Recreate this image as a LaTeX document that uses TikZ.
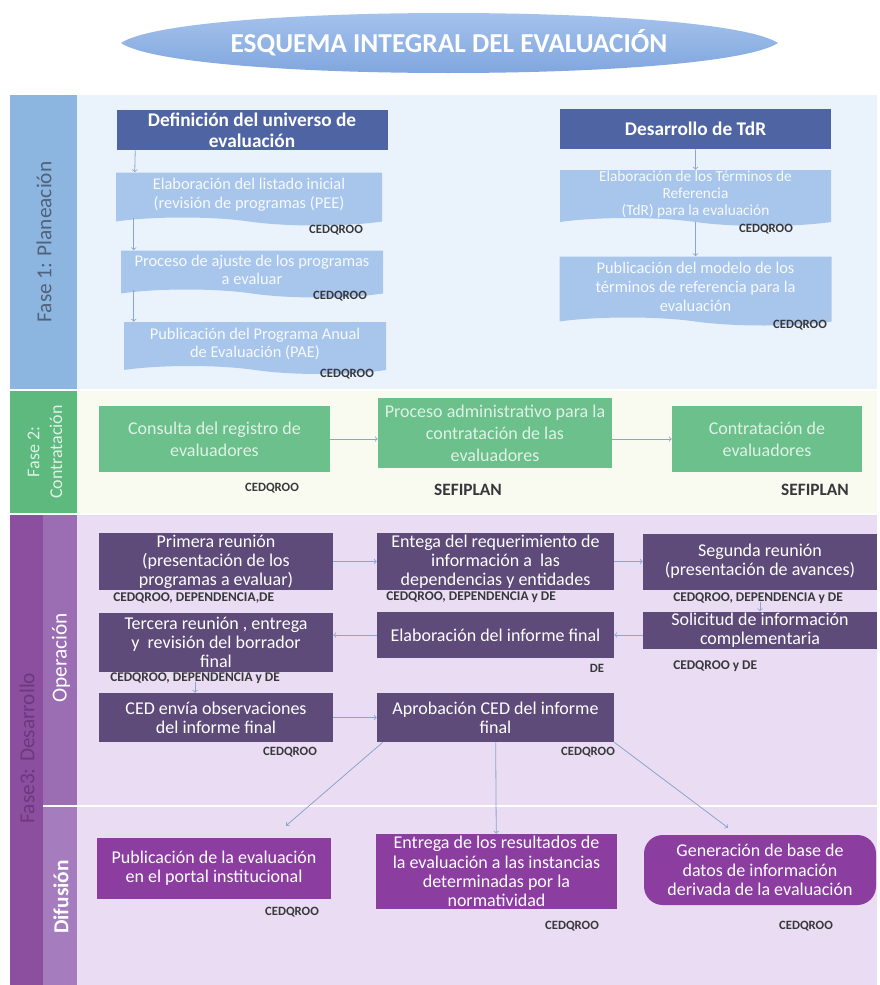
\documentclass[tikz,border=0pt]{standalone}
\usepackage{fontspec}
\setmainfont{Carlito}
\usetikzlibrary{calc,shapes.symbols}

\definecolor{azultitulo}{RGB}{122,162,220}
\definecolor{azultitulob}{RGB}{170,198,238}
\definecolor{azulclaro}{RGB}{168,198,236}
\definecolor{azuloscuro}{RGB}{78,100,163}
\definecolor{fondoazul}{RGB}{234,243,251}
\definecolor{colazul}{RGB}{140,181,223}
\definecolor{textoazul}{RGB}{80,98,124}
\definecolor{fondoverde}{RGB}{250,251,240}
\definecolor{colverde}{RGB}{93,185,126}
\definecolor{cajaverde}{RGB}{108,192,140}
\definecolor{textoverde}{RGB}{222,242,229}
\definecolor{fondomorado}{RGB}{234,220,243}
\definecolor{colmorado}{RGB}{140,78,158}
\definecolor{textomorado}{RGB}{108,56,130}
\definecolor{coloper}{RGB}{155,110,180}
\definecolor{coldifu}{RGB}{165,124,190}
\definecolor{cajaoper}{RGB}{94,75,122}
\definecolor{cajadifu}{RGB}{139,62,160}
\definecolor{flechagris}{RGB}{140,165,204}
\definecolor{etiqgris}{RGB}{55,55,60}

\begin{document}
\begin{tikzpicture}[x=0.75pt,y=0.75pt,yscale=-1,xscale=1,
  tam/.style 2 args={minimum width=#1*0.75pt, minimum height=#2*0.75pt},
  oscura/.style={fill=azuloscuro, text=white, inner sep=0pt, align=center, font=\fontsize{14.5}{16}\selectfont\bfseries},
  clara/.style={tape, tape bend top=none, tape bend bottom=out and in, tape bend height=6pt, fill=azulclaro, text=white!90!azulclaro, inner sep=0pt, align=center, font=\fontsize{12.3}{14}\selectfont},
  verde/.style={fill=cajaverde, text=textoverde, inner sep=0pt, align=center, font=\fontsize{13.5}{16.5}\selectfont},
  oper/.style={fill=cajaoper, text=white, inner sep=0pt, align=center, font=\fontsize{13.5}{14.3}\selectfont},
  difu/.style={fill=cajadifu, text=white, inner sep=0pt, align=center, font=\fontsize{13.5}{14.5}\selectfont},
  etiq/.style={text=etiqgris, inner sep=0pt, font=\fontsize{9.5}{11}\selectfont\bfseries},
  etiqlarga/.style={etiq, font=\fontsize{10}{11}\selectfont\bfseries},
  flecha/.style={->, draw=flechagris, line width=0.6pt},
  fase/.style={rotate=90, inner sep=0pt, align=center}]

\useasboundingbox (0,0) rectangle (879,985);
\fill[white] (0,0) rectangle (879,985);

%Shape: Lens [title]
\shade[top color=azultitulob, bottom color=azultitulo] (121,43) .. controls (180,3) and (716,3) .. (778,43) .. controls (716,83) and (180,83) .. (121,43) -- cycle;
% Text Node
\node (titulo) at (449,43) [text=white, font=\fontsize{20.5}{22}\selectfont\bfseries] {ESQUEMA INTEGRAL DEL EVALUACIÓN};

%Shape: Bands
\fill[fondoazul] (77,95) rectangle (877,389);
\fill[colazul] (10,95) rectangle (77,389);
\fill[fondoverde] (77,391) rectangle (877,513);
\fill[colverde] (10,391) rectangle (77,513);
\fill[fondomorado] (77,515) rectangle (877,985);
\fill[colmorado] (10,515) rectangle (43,985);
\fill[coloper] (43,515) rectangle (77,805);
\fill[coldifu] (43,807) rectangle (77,985);
\draw[white, line width=1.5pt] (77,806) -- (877,806);
\draw[white, line width=1.5pt] (77,390) -- (877,390);
\draw[white, line width=1.5pt] (77,514) -- (877,514);

% Text Node
\node (fase1) [fase, text=textoazul, font=\fontsize{16}{18}\selectfont] at (44,242) {Fase 1: Planeación};
\node (fase2) [fase, text=textoverde, font=\fontsize{13.5}{17}\selectfont] at (45,452) {Fase 2:\\Contratación};
\node (fase3) [fase, text=textomorado, font=\fontsize{16}{18}\selectfont] at (27,748) {Fase3: Desarrollo};
\node (oper) [fase, text=white, font=\fontsize{16}{18}\selectfont] at (61,658) {Operación};
\node (difu) [fase, text=white, font=\fontsize{16}{18}\selectfont\bfseries] at (61,897) {Difusión};

%Fase 1: Planeacion
\node (defuni) [oscura, tam={271}{40}] at (252,130) {Definición del universo de\\evaluación};
\node (listado) [clara, tam={266}{53}] at (249,195) {Elaboración del listado inicial\\(revisión de programas (PEE)};
\node (ajuste) [clara, tam={262}{47}] at (252,270) {Proceso de ajuste de los programas\\a evaluar};
\node (pae) [clara, tam={262}{52}] at (255,344) {Publicación del Programa Anual\\de Evaluación (PAE)};
\node (tdr) [oscura, tam={271}{40}] at (695.5,129) {Desarrollo de TdR};
\node (elabtdr) [clara, tam={271}{56}, font=\fontsize{11.5}{12.8}\selectfont] at (695.5,194) {Elaboración de los Términos de\\Referencia\\(TdR) para la evaluación};
\node (modelo) [clara, tam={272}{69}] at (695.5,287) {Publicación del modelo de los\\términos de referencia para la\\evaluación};

\node (e-listado) [etiq] at (336,230) {CEDQROO};
\node (e-ajuste) [etiq] at (340,296) {CEDQROO};
\node (e-pae) [etiq] at (347,374) {CEDQROO};
\node (e-elabtdr) [etiq] at (766,229) {CEDQROO};
\node (e-modelo) [etiq] at (800,325) {CEDQROO};

\draw[flecha] ($(defuni.south west)+(19,0)$) -- ($(listado.north west)+(19,0)$);
\draw[flecha] ($(listado.south west)+(18,0)$) -- ($(ajuste.north west)+(13,0)$);
\draw[flecha] ($(ajuste.south west)+(13,0)$) -- ($(pae.north west)+(10,0)$);
\draw[flecha] (tdr) -- (elabtdr);
\draw[flecha] (elabtdr) -- (modelo);

%Fase 2: Contratacion
\node (consulta) [verde, tam={231}{66}] at (214.5,439) {Consulta del registro de\\evaluadores};
\node (procadm) [verde, tam={234}{70}] at (495,433) {Proceso administrativo para la\\contratación de las\\evaluadores};
\node (contrata) [verde, tam={190}{66}] at (767,439) {Contratación de\\evaluadores};

\node (e-consulta) [etiq] at (272,488) {CEDQROO};
\node (e-procadm) [etiq, font=\fontsize{13}{14}\selectfont\bfseries] at (468,490) {SEFIPLAN};
\node (e-contrata) [etiq, font=\fontsize{13}{14}\selectfont\bfseries] at (815,490) {SEFIPLAN};

\draw[flecha] (consulta.east) -- (consulta.east -| procadm.west);
\draw[flecha] (consulta.east -| procadm.east) -- (consulta.east -| contrata.west);

%Fase 3: Operacion
\node (primreu) [oper, tam={234}{57}] at (216,561.5) {Primera reunión\\(presentación de los\\programas a evaluar)};
\node (entrega) [oper, tam={237}{57}] at (495.5,561.5) {Entega del requerimiento de\\información a\ \ las\\dependencias y entidades};
\node (segreu) [oper, tam={234}{56}] at (760,561.5) {Segunda reunión\\(presentación de avances)};
\node (solicitud) [oper, tam={234}{37}] at (760,630) {Solicitud de información\\complementaria};
\node (elabinf) [oper, tam={237}{46}] at (495.5,635) {Elaboración del informe final};
\node (terreu) [oper, tam={234}{59}] at (216,642.5) {Tercera reunión , entrega\\y\ \ revisión del borrador\\final};
\node (cedobs) [oper, tam={234}{49}] at (216,717.5) {CED envía observaciones\\del informe final};
\node (aprob) [oper, tam={237}{49}] at (495.5,717.5) {Aprobación CED del informe\\final};

\node (e-primreu) [etiqlarga, anchor=west] at (113,598) {CEDQROO, DEPENDENCIA,DE};
\node (e-entrega) [etiqlarga, anchor=west] at (386,597) {CEDQROO, DEPENDENCIA y DE};
\node (e-segreu) [etiqlarga, anchor=west] at (673,598) {CEDQROO, DEPENDENCIA y DE};
\node (e-solicitud) [etiqlarga, anchor=west] at (673,666) {CEDQROO y DE};
\node (e-elabinf) [etiq] at (597,668) {DE};
\node (e-terreu) [etiqlarga, anchor=west] at (110,678) {CEDQROO, DEPENDENCIA y DE};
\node (e-cedobs) [etiq] at (290,752) {CEDQROO};
\node (e-aprob) [etiq] at (588,752) {CEDQROO};

\draw[flecha] (primreu) -- (entrega);
\draw[flecha] (entrega) -- (segreu);
\draw[flecha, shorten <=9pt] (segreu) -- (solicitud);
\draw[flecha] (elabinf.east -| solicitud.west) -- (elabinf.east);
\draw[flecha] (elabinf.west) -- (elabinf.west -| terreu.east);
\draw[flecha, shorten <=7pt] ($(terreu.south)+(-21,0)$) -- ($(cedobs.north)+(-21,0)$);
\draw[flecha] (cedobs) -- (aprob);

%Fase 3: Difusion
\node (publica) [difu, tam={234}{61}] at (214,868.5) {Publicación de la evaluación\\en el portal institucional};
\node (resultados) [difu, tam={241}{75}] at (496.5,871.5) {Entrega de los resultados de\\la evaluación a las instancias\\determinadas por la\\normatividad};
\node (basedatos) [difu, tam={232}{70}, rounded corners=14pt] at (760,870) {Generación de base de\\datos de información\\derivada de la evaluación};

\node (e-publica) [etiq] at (292,912) {CEDQROO};
\node (e-resultados) [etiq] at (572,926) {CEDQROO};
\node (e-basedatos) [etiq] at (806,926) {CEDQROO};

\coordinate (pubtip) at ($(publica.north)+(72,-12)$);
\coordinate (bdtip) at ($(basedatos.north)+(-32,-7)$);
\draw[flecha] ($(aprob.south west)+(6,0)$) -- (pubtip);
\draw[flecha] (aprob) -- (resultados);
\draw[flecha] (aprob.south east) -- (bdtip);

\end{tikzpicture}
\end{document}
